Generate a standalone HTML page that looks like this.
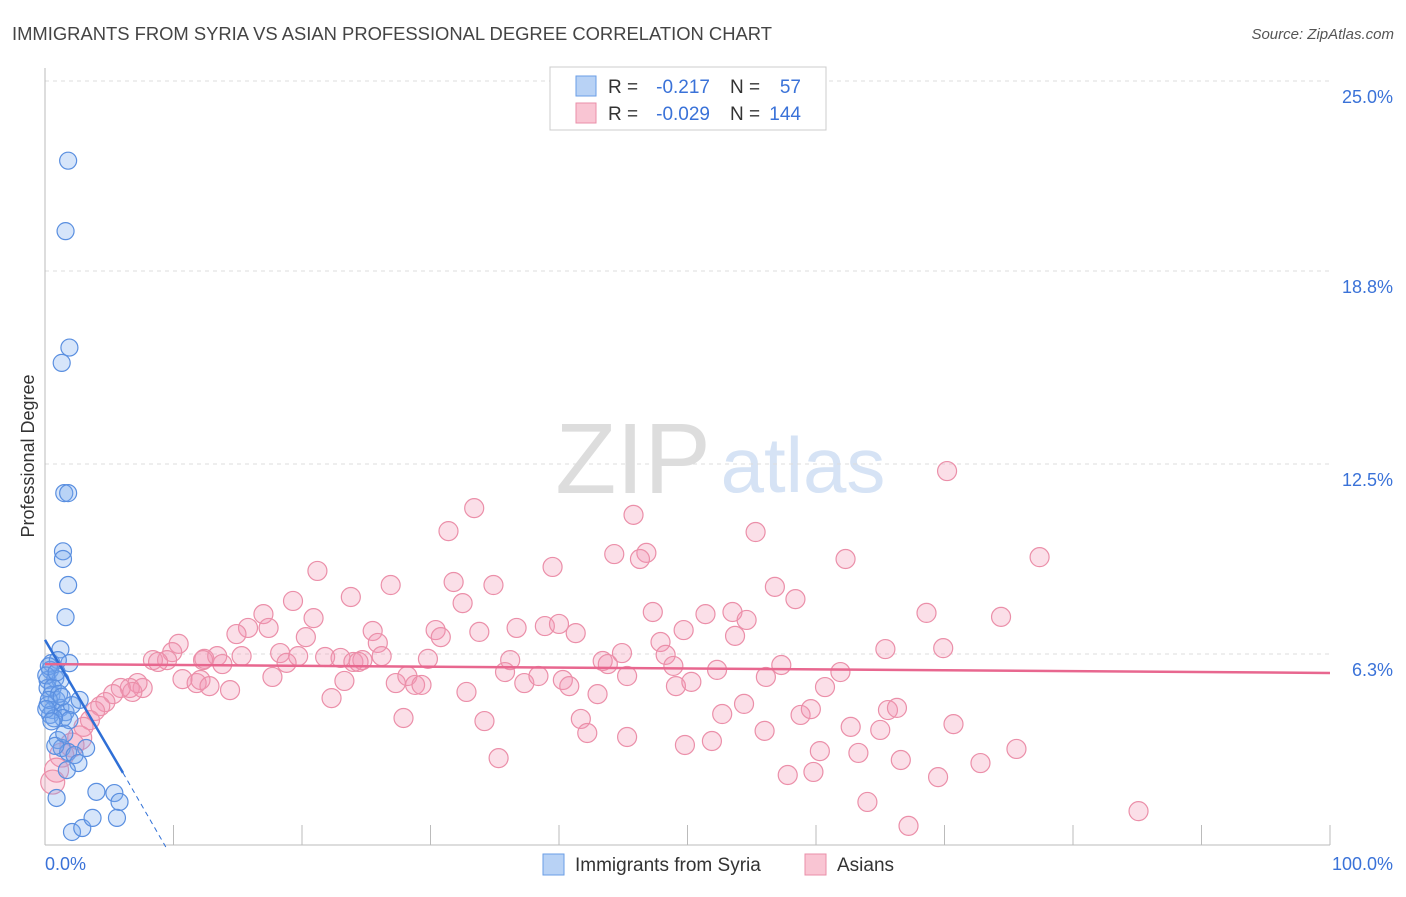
<!DOCTYPE html>
<html><head><meta charset="utf-8"><style>
body{margin:0;background:#fff;font-family:"Liberation Sans",sans-serif;}
svg text{font-family:"Liberation Sans",sans-serif;}
</style></head><body>
<svg id="chart" width="1406" height="892" xmlns="http://www.w3.org/2000/svg">
<text x="12" y="40" font-size="18.4" fill="#444">IMMIGRANTS FROM SYRIA VS ASIAN PROFESSIONAL DEGREE CORRELATION CHART</text>
<text x="1394" y="39" font-size="15" fill="#555" text-anchor="end" font-style="italic">Source: ZipAtlas.com</text>
<g>
<text x="633" y="493" font-size="100" fill="#ddd" font-family="Liberation Serif" text-anchor="middle">ZIP</text>
<text x="803" y="492" font-size="78" fill="#d6e3f5" text-anchor="middle">atlas</text>
</g>
<g id="grid"></g>
<g id="axes"></g>
<g id="pink"></g>
<g id="blue"></g>
<g id="trends"></g>
<text transform="translate(34,456) rotate(-90)" font-size="18" fill="#333" text-anchor="middle">Professional Degree</text>
<g>
<rect x="550" y="67" width="276" height="63" fill="#fff" stroke="#ccc"/>
<rect x="576" y="76" width="20" height="20" fill="#b8d2f5" stroke="#6a9ee6"/>
<rect x="576" y="103" width="20" height="20" fill="#f9c5d3" stroke="#ea8fa8"/>
<text x="608" y="93" font-size="19" fill="#333">R =</text><text x="710" y="93" font-size="19" fill="#3a72d8" text-anchor="end">-0.217</text>
<text x="730" y="93" font-size="19" fill="#333">N =</text><text x="801" y="93" font-size="19" fill="#3a72d8" text-anchor="end">57</text>
<text x="608" y="120" font-size="19" fill="#333">R =</text><text x="710" y="120" font-size="19" fill="#3a72d8" text-anchor="end">-0.029</text>
<text x="730" y="120" font-size="19" fill="#333">N =</text><text x="801" y="120" font-size="19" fill="#3a72d8" text-anchor="end">144</text>
</g>
<g>
<rect x="543" y="854" width="21" height="21" fill="#b8d2f5" stroke="#6a9ee6"/>
<text x="575" y="871" font-size="19" fill="#333">Immigrants from Syria</text>
<rect x="805" y="854" width="21" height="21" fill="#f9c5d3" stroke="#ea8fa8"/>
<text x="837" y="871" font-size="19" fill="#333">Asians</text>
</g>
</svg>
<script>
const yTicks=[6.3,12.5,18.8,25.0];
const yTickLabels=["6.3%","12.5%","18.8%","25.0%"];
const xTickLabels=["0.0%","100.0%"];
const blueX=[1.8,1.6,1.9,1.3,1.5,1.8,1.4,1.4,1.8,1.6,1.2,1.9,0.5,1.0,0.4,0.2,0.8,1.2,0.2,0.5,0.9,0.2,0.6,1.2,1.6,0.4,2.1,2.7,1.4,1.9,1.0,1.3,1.8,3.2,0.8,2.3,2.6,1.7,0.9,4.0,5.4,5.8,2.1,2.9,3.7,5.6,0.3,0.1,0.6,1.1,0.3,0.7,1.5,0.1,0.9,0.5,1.3];
const blueY=[22.4,20.1,16.3,15.8,11.55,11.55,9.65,9.4,8.55,7.5,6.45,6.0,6.0,6.1,5.78,5.45,5.5,5.45,5.19,4.96,4.8,4.63,4.47,4.54,4.4,4.31,4.63,4.8,4.21,4.14,3.49,3.23,3.1,3.23,3.3,3.0,2.74,2.51,1.6,1.8,1.76,1.47,0.49,0.62,0.95,0.95,5.9,5.6,5.2,5.0,4.8,4.2,3.7,4.5,5.7,4.1,4.9];
const pinkX=[70.2,33.4,45.8,31.4,55.3,44.3,46.8,46.3,62.3,77.4,21.2,39.5,31.8,26.9,34.9,56.8,23.8,32.5,58.4,19.3,47.3,17.0,20.9,51.4,53.5,54.6,68.6,74.4,17.4,15.8,14.9,25.5,36.7,38.9,40.0,49.7,30.4,30.8,33.8,41.3,53.7,10.4,20.3,25.9,47.9,65.4,69.9,9.9,9.5,8.4,8.8,12.4,13.4,15.3,18.3,19.7,21.8,23.0,24.0,24.7,26.2,29.8,36.2,43.4,43.8,44.9,48.3,12.3,13.8,18.8,24.4,48.9,52.3,57.3,61.9,10.7,11.8,12.1,12.8,17.7,23.3,27.3,28.2,28.8,29.3,35.8,37.3,38.4,40.3,40.8,45.3,49.1,50.3,56.1,60.7,14.4,7.6,7.2,6.6,6.8,5.9,5.3,4.7,4.3,3.9,3.5,3.0,2.7,2.1,1.3,0.9,0.6,22.3,32.8,43.0,54.4,27.9,41.7,52.7,58.8,59.6,65.6,66.3,34.2,42.2,45.3,49.8,51.9,56.0,62.7,65.0,70.7,75.6,35.3,60.3,63.3,66.6,72.8,57.8,59.8,69.5,64.0,67.2,85.1];
const pinkY=[12.27,11.06,10.84,10.31,10.28,9.56,9.6,9.40,9.40,9.46,9.01,9.14,8.65,8.55,8.55,8.49,8.16,7.96,8.09,8.03,7.67,7.60,7.47,7.60,7.67,7.41,7.64,7.51,7.15,7.15,6.95,7.05,7.15,7.21,7.28,7.08,7.08,6.85,7.02,6.98,6.89,6.63,6.85,6.66,6.69,6.46,6.49,6.36,6.10,6.10,6.04,6.14,6.23,6.23,6.33,6.23,6.20,6.17,6.04,6.10,6.23,6.14,6.10,6.07,5.97,6.33,6.27,6.10,5.97,6.01,6.04,5.91,5.78,5.94,5.71,5.48,5.35,5.45,5.25,5.55,5.42,5.35,5.58,5.29,5.29,5.71,5.35,5.58,5.45,5.25,5.58,5.25,5.39,5.55,5.22,5.12,5.19,5.35,5.19,5.06,5.19,4.99,4.73,4.60,4.44,4.14,3.92,3.56,3.33,3.0,2.51,2.12,4.86,5.06,4.99,4.67,4.21,4.18,4.34,4.31,4.50,4.47,4.54,4.11,3.72,3.59,3.33,3.46,3.79,3.92,3.82,4.01,3.20,2.90,3.13,3.07,2.84,2.74,2.35,2.45,2.28,1.47,0.69,1.17];
const blueTrendX=[0,6.07,9.4];
const blueTrendY=[6.76,2.42,0];
const pinkTrendX=[0,100];
const pinkTrendY=[5.97,5.68];
const NS="http://www.w3.org/2000/svg";
const sx=v=>45+v/100*1285;
const sy=v=>847-v/25*766;
function mk(tag,parent,attrs){const e=document.createElementNS(NS,tag);for(const k in attrs)e.setAttribute(k,attrs[k]);document.getElementById(parent).appendChild(e);return e;}
yTicks.forEach((t,i)=>{
 const g=mk('line','grid',{x1:45,x2:1330,y1:sy(t),y2:sy(t),stroke:'#ddd','stroke-dasharray':'4,4'});
 
 
 const l=mk('text','grid',{x:1393,y:sy(t)+22,'font-size':18,fill:'#3a72d8','text-anchor':'end'});
 l.textContent=yTickLabels[i];
 
 
});
const ax=mk('line','axes',{x1:45,x2:45,y1:68,y2:845,stroke:'#bbb'});


const bx=mk('line','axes',{x1:45,x2:1330,y1:845,y2:845,stroke:'#bbb'});


for(let i=1;i<=10;i++){const t=mk('line','axes',{x1:sx(i*10),x2:sx(i*10),y1:825,y2:845,stroke:'#bbb'});
 
 }
[[0,45,'start'],[1,1393,'end']].forEach(([i,x,a])=>{const t=mk('text','axes',{x:x,y:870,'font-size':18,fill:'#3a72d8','text-anchor':a});t.textContent=xTickLabels[i];
 
 });
pinkX.forEach((x,i)=>{const c=mk('circle','pink',{cx:sx(x),cy:sy(pinkY[i]),r:(x<3?12:9.5),fill:'rgba(242,150,178,0.3)',stroke:'#eb8fa9','stroke-width':1.2});
 
 });
blueX.forEach((x,i)=>{const c=mk('circle','blue',{cx:sx(x),cy:sy(blueY[i]),r:8.5,fill:'rgba(120,170,240,0.3)',stroke:'#5a8fe0','stroke-width':1.2});
 
 });
const b1=mk('line','trends',{x1:sx(blueTrendX[0]),y1:sy(blueTrendY[0]),x2:sx(blueTrendX[1]),y2:sy(blueTrendY[1]),stroke:'#2f6fd6','stroke-width':2.5});


const b2=mk('line','trends',{x1:sx(blueTrendX[1]),y1:sy(blueTrendY[1]),x2:sx(blueTrendX[2]),y2:sy(blueTrendY[2]),stroke:'#2f6fd6','stroke-width':1,'stroke-dasharray':'5,4'});


const p1=mk('line','trends',{x1:sx(pinkTrendX[0]),y1:sy(pinkTrendY[0]),x2:sx(pinkTrendX[1]),y2:sy(pinkTrendY[1]),stroke:'#e8678f','stroke-width':2.5});


</script>
</body></html>
